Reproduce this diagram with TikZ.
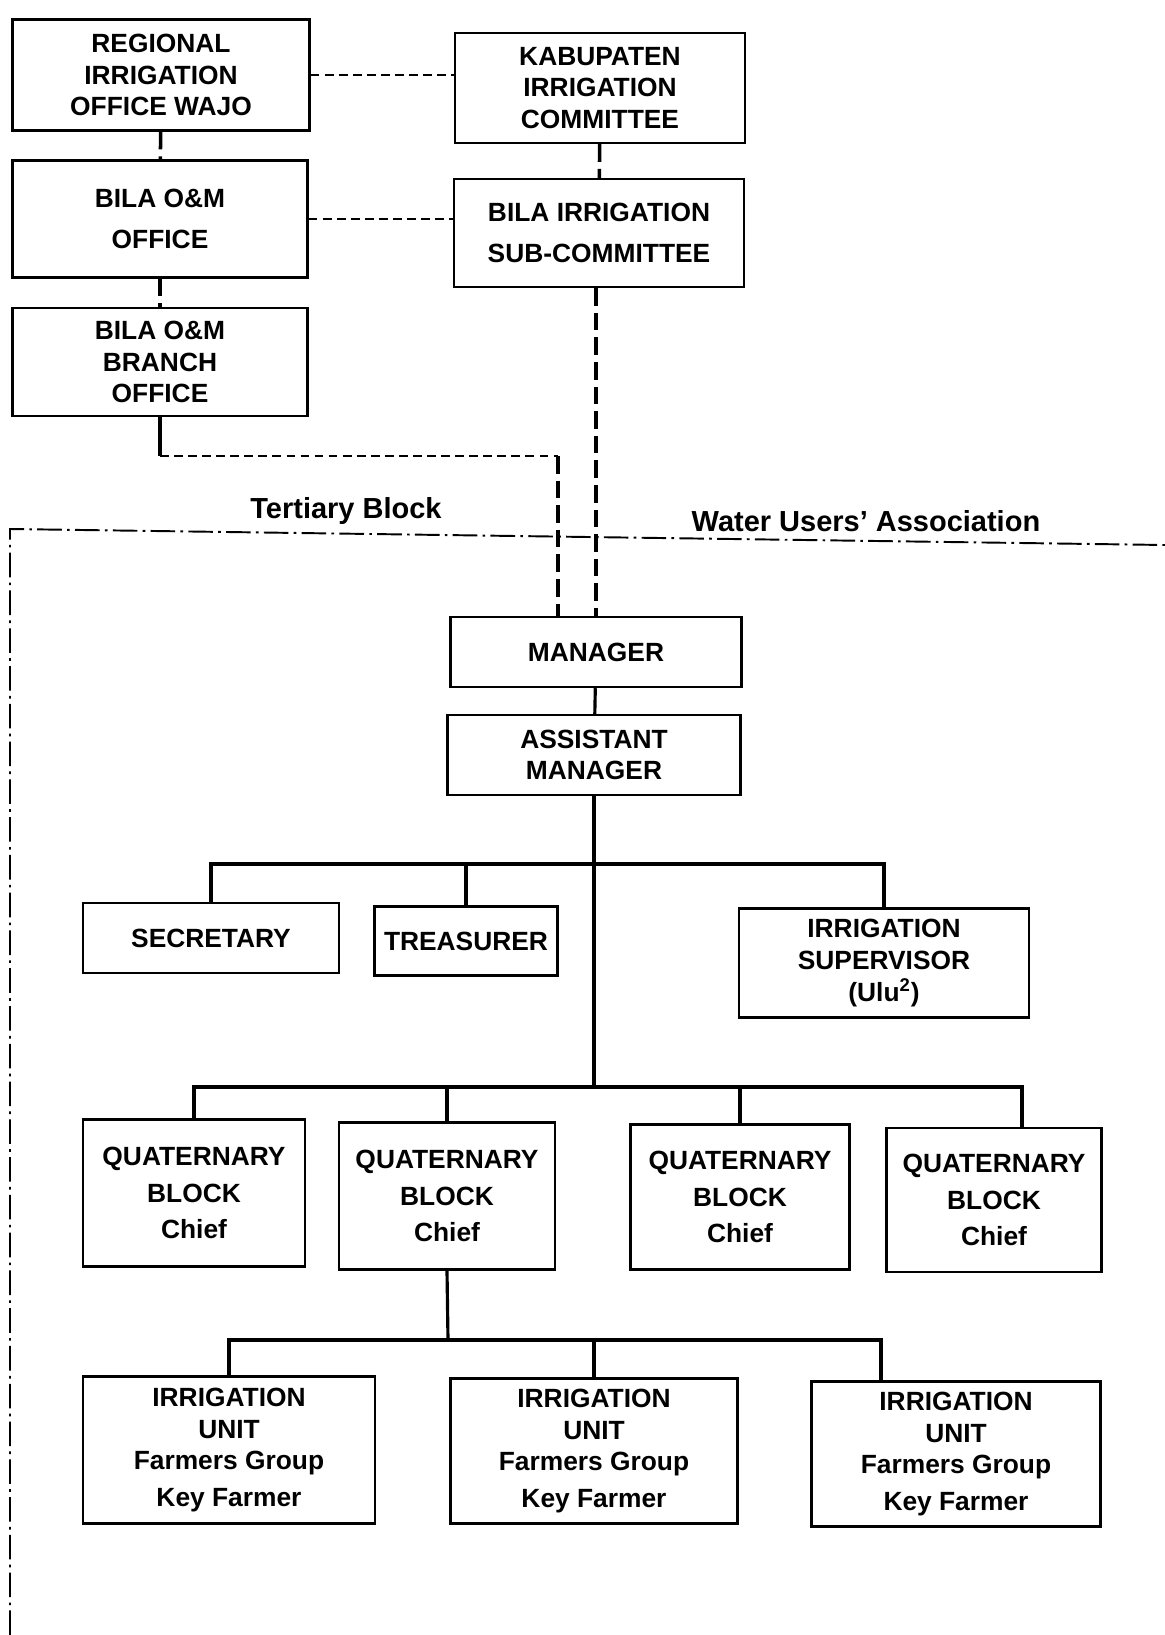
\documentclass[tikz,border=0pt]{standalone}
\usepackage{fontspec}
\setmainfont{Liberation Sans}

\tikzset{
  unit/.style={draw, line width=1.4pt, align=center, inner sep=2pt,
    font=\fontsize{15}{18}\selectfont\bfseries},
  zone/.style={font=\fontsize{16.5}{18}\selectfont\bfseries, inner sep=1pt},
  tree/.style={line width=1.8pt},
  link/.style={line width=1.1pt, dash pattern=on 5pt off 3pt},
  feed/.style={line width=2pt, dash pattern=on 10pt off 4pt},
  border/.style={line width=1.1pt, dash pattern=on 14pt off 3pt on 1.5pt off 3pt}
}

\begin{document}
\begin{tikzpicture}[x=0.02cm, y=-0.02cm]
\useasboundingbox (0,0) rectangle (1165,1635);

% government side
\node[unit, minimum width=5.94cm, minimum height=2.22cm] (regional) at (161,75) {REGIONAL\\IRRIGATION\\OFFICE WAJO};
\node[unit, minimum width=5.80cm, minimum height=2.20cm] (kabupaten) at (600,88) {KABUPATEN\\IRRIGATION\\COMMITTEE};
\node[unit, minimum width=5.90cm, minimum height=2.34cm] (bilaom) at (160,219) {BILA O\&M\\[5pt]OFFICE};
\node[unit, minimum width=5.80cm, minimum height=2.16cm] (subcom) at (599,233) {BILA IRRIGATION\\[5pt]SUB-COMMITTEE};
\node[unit, minimum width=5.90cm, minimum height=2.16cm] (branch) at (160,362) {BILA O\&M\\BRANCH\\OFFICE};

\draw[link] (regional.east) -- (regional.east -| kabupaten.west);
\draw[link] (bilaom.east) -- (bilaom.east -| subcom.west);
\draw[feed] (regional) -- (bilaom);
\draw[feed] (bilaom) -- (branch);
\draw[feed] (kabupaten) -- (subcom);

% boundary of the tertiary block
\coordinate (cornerL) at (10,529);
\coordinate (edgeR) at (1165,545);
\coordinate (edgeB) at (10,1635);
\draw[border] (edgeB) -- (cornerL) -- (edgeR);
\node[zone] (tertiary) at (346,511) {Tertiary Block};
\node[zone] (wua) at (866,521) {Water Users' Association};

% water users' association
\node[unit, minimum width=5.82cm, minimum height=1.40cm] (manager) at (596,652) {MANAGER};
\node[unit, minimum width=5.86cm, minimum height=1.60cm] (assistant) at (594,755) {ASSISTANT\\MANAGER};

\coordinate (bend) at (558,456);
\draw[tree] (branch.south) -- (branch.south |- bend);
\draw[link] (branch.south |- bend) -- (bend);
\draw[feed] (bend) -- (bend |- manager.north);
\draw[feed] (subcom.south -| manager.north) -- (manager.north);
\draw[tree] (manager) -- (assistant);

\node[unit, minimum width=5.12cm, minimum height=1.40cm] (secretary) at (211,938) {SECRETARY};
\node[unit, minimum width=3.66cm, minimum height=1.38cm] (treasurer) at (466,941) {TREASURER};
\node[unit, minimum width=5.80cm, minimum height=2.18cm] (supervisor) at (884,963) {IRRIGATION\\SUPERVISOR\\(Ulu\textsuperscript{2})};

\coordinate (busA) at (594,864);
\coordinate (busB) at (594,1087);
\draw[tree] (assistant.south) -- (busB);
\draw[tree] (secretary.north) |- (supervisor.north |- busA) -- (supervisor.north);
\draw[tree] (treasurer.north) -- (treasurer.north |- busA);

% quaternary blocks
\node[unit, minimum width=4.44cm, minimum height=2.94cm] (quatA) at (194,1193) {QUATERNARY\\[3pt]BLOCK\\[3pt]Chief};
\node[unit, minimum width=4.32cm, minimum height=2.94cm] (quatB) at (447,1196) {QUATERNARY\\[3pt]BLOCK\\[3pt]Chief};
\node[unit, minimum width=4.38cm, minimum height=2.90cm] (quatC) at (740,1197) {QUATERNARY\\[3pt]BLOCK\\[3pt]Chief};
\node[unit, minimum width=4.30cm, minimum height=2.88cm] (quatD) at (994,1200) {QUATERNARY\\[3pt]BLOCK\\[3pt]Chief};

\coordinate (dropD) at (1022,1087);
\draw[tree] (quatA.north) |- (dropD) -- (dropD |- quatD.north);
\draw[tree] (quatB.north) -- (quatB.north |- busB);
\draw[tree] (quatC.north) -- (quatC.north |- busB);

% irrigation units
\node[unit, minimum width=5.84cm, minimum height=2.94cm] (unitA) at (229,1450) {IRRIGATION\\UNIT\\Farmers Group\\[3pt]Key Farmer};
\node[unit, minimum width=5.74cm, minimum height=2.90cm] (unitB) at (594,1451) {IRRIGATION\\UNIT\\Farmers Group\\[3pt]Key Farmer};
\node[unit, minimum width=5.78cm, minimum height=2.90cm] (unitC) at (956,1454) {IRRIGATION\\UNIT\\Farmers Group\\[3pt]Key Farmer};

\coordinate (busC) at (448,1340);
\coordinate (dropC) at (881,1340);
\draw[tree] (quatB.south) -- (busC);
\draw[tree] (unitA.north) |- (dropC) -- (dropC |- unitC.north);
\draw[tree] (unitB.north) -- (unitB.north |- busC);
\end{tikzpicture}
\end{document}
